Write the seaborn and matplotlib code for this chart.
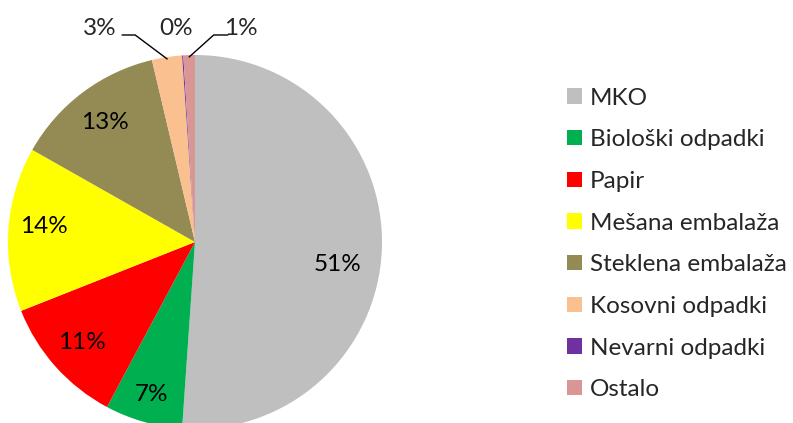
import numpy as np
import matplotlib
matplotlib.use("Agg")
import matplotlib.pyplot as plt
import seaborn as sns

# waste composition (share in %)
categories = ["MKO", "Biološki odpadki", "Papir", "Mešana embalaža",
              "Steklena embalaža", "Kosovni odpadki", "Nevarni odpadki", "Ostalo"]
shares = [51.1, 6.7, 11.2, 14.2, 13.1, 2.6, 0.1, 1.0]
slice_colors = ["#BFBFBF", "#00B050", "#FF0000", "#FFFF00",
                "#948A54", "#FAC090", "#7030A0", "#D99694"]

sns.set_theme(style="white")
plt.rcParams["font.family"] = ["Lato", "DejaVu Sans"]
FS = 17.5

fig = plt.figure(figsize=(7.93, 4.23), dpi=100)
# pie axes: centre ~ (195, 242) px, radius ~187 px
ax = fig.add_axes([8 / 793, -6 / 423, 374 / 793, 374 / 423])
wedges, _ = ax.pie(shares, colors=slice_colors, startangle=90,
                   counterclock=False, radius=1,
                   wedgeprops=dict(linewidth=0))
ax.set_xlim(-1, 1)
ax.set_ylim(-1, 1)
ax.set_aspect("equal")
ax.axis("off")

# label placement (inside slices): distance from centre, extra angle shift
inside_dist = [0.77, 0.85, 0.81, 0.81, 0.80]
inside_shift = [-7, 0, 0, -2, 0]

for i, w in enumerate(wedges):
    pct = f"{shares[i]:.0f}%"
    mid = np.deg2rad((w.theta1 + w.theta2) / 2)
    if i < len(inside_dist):
        a = mid + np.deg2rad(inside_shift[i])
        d = inside_dist[i]
        ax.text(d * np.cos(a), d * np.sin(a), pct, ha="center", va="center",
                fontsize=FS, color="black")

# small slices: labels above the pie with leader lines
y_lab = 1.14
y_lead = 1.107
# Kosovni odpadki
w = wedges[5]
mid = np.deg2rad((w.theta1 + w.theta2) / 2)
ax.text(-0.51, y_lab, f"{shares[5]:.0f}%", ha="center", va="center", fontsize=FS)
ax.plot([-0.39, -0.32, np.cos(mid) * 0.99], [y_lead, y_lead, np.sin(mid) * 0.99],
        color="black", lw=1.0, clip_on=False)
# Nevarni odpadki
ax.text(-0.10, y_lab, f"{shares[6]:.0f}%", ha="center", va="center", fontsize=FS)
# Ostalo
w = wedges[7]
mid = np.deg2rad((w.theta1 + w.theta2) / 2)
ax.text(0.245, y_lab, f"{shares[7]:.0f}%", ha="center", va="center", fontsize=FS)
ax.plot([0.176, 0.10, np.cos(mid) * 0.99], [y_lead, y_lead, np.sin(mid) * 0.99],
        color="black", lw=1.0, clip_on=False)

fig.legend(wedges, categories, loc="center left",
           bbox_to_anchor=(567 / 793, 179 / 423), bbox_transform=fig.transFigure,
           frameon=False, fontsize=FS, handlelength=0.6, handleheight=0.6,
           handletextpad=0.35, labelspacing=0.85, borderpad=0, borderaxespad=0)

fig.savefig("out.png", dpi=100)
